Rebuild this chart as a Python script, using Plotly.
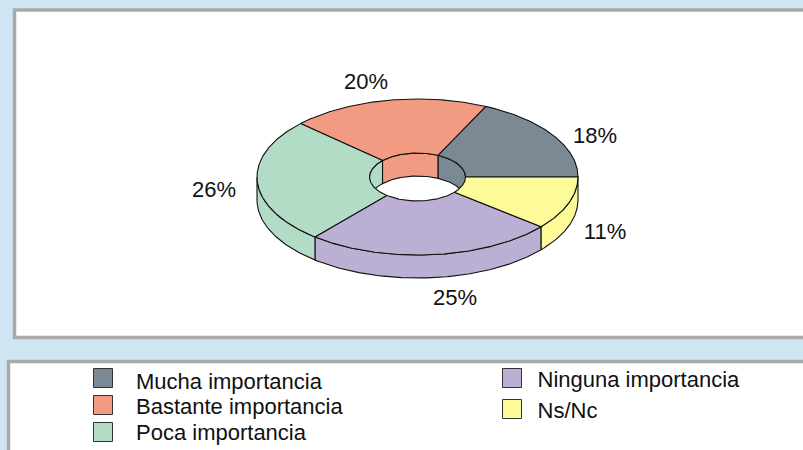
import numpy as np
import plotly.graph_objects as go

# Data
categories = ["Mucha importancia", "Bastante importancia", "Poca importancia", "Ninguna importancia", "Ns/Nc"]
values = [18, 20, 26, 25, 11]
colors = ["#7A8994", "#F09B82", "#B2DCC6", "#BBB0D4", "#FDFB98"]

# Layout geometry (pixel-like coordinates of the page)
W, H = 803, 450
CX, CY = 417.5, 177
A, B = 160.5, 78
HA, HB = 48, 24
DEPTH = 23
LINE = "#111111"
label_pos = [(595, 137), (366, 83), (214, 191), (455, 299), (605, 233)]
legend_pos = [(103, 378), (103, 405), (103, 432), (512, 378), (512, 409)]
legend_text_x = [136, 136, 136, 537.5, 537.5]
legend_text_y = [383, 408, 434, 381, 412]

cum = np.concatenate([[0], np.cumsum(values)]) / sum(values) * 360
fig = go.Figure()


def arc(a, b, t0, t1, dy=0.0):
    t = np.radians(np.linspace(t0, t1, max(int(abs(t1 - t0)) * 2, 2) + 1))
    return CX + a * np.cos(t), CY - b * np.sin(t) + dy


def poly(xs, ys, color, name):
    fig.add_trace(go.Scatter(
        x=np.concatenate(xs), y=np.concatenate(ys), mode="lines", fill="toself",
        fillcolor=color, line=dict(color=LINE, width=1.1), name=name,
        hoverinfo="name", showlegend=False))


def wall(a, b, t0, t1, color, name):
    x1, y1 = arc(a, b, t0, t1)
    x2, y2 = arc(a, b, t1, t0, DEPTH)
    poly([x1, x2, x1[:1]], [y1, y2, y1[:1]], color, name)


# Outer wall (front half), then the inner wall of the hole (back half)
for i in range(len(values)):
    t0, t1 = max(cum[i], 180), min(cum[i + 1], 360)
    if t1 > t0:
        wall(A, B, t0, t1, colors[i], categories[i])
for i in range(len(values)):
    t0, t1 = cum[i], min(cum[i + 1], 180)
    if t1 > t0:
        wall(HA, HB, t0, t1, colors[i], categories[i])

# Top faces
for i in range(len(values)):
    x1, y1 = arc(A, B, cum[i], cum[i + 1])
    x2, y2 = arc(HA, HB, cum[i + 1], cum[i])
    poly([x1, x2, x1[:1]], [y1, y2, y1[:1]], colors[i], categories[i])

# Percent labels
fig.add_trace(go.Scatter(
    x=[p[0] for p in label_pos], y=[p[1] for p in label_pos], mode="text",
    text=[f"{v}%" for v in values], textposition="middle center",
    textfont=dict(family="Liberation Sans", size=22, color="#111111"),
    hoverinfo="skip", showlegend=False))

# Legend swatches and text
fig.add_trace(go.Scatter(
    x=[p[0] for p in legend_pos], y=[p[1] for p in legend_pos], mode="markers",
    marker=dict(symbol="square", size=19, color=colors, line=dict(color="#333333", width=1)),
    hoverinfo="skip", showlegend=False))
fig.add_trace(go.Scatter(
    x=legend_text_x, y=legend_text_y, mode="text", text=categories,
    textposition="middle right",
    textfont=dict(family="Liberation Sans", size=22, color="#111111"),
    hoverinfo="skip", showlegend=False))

panel = dict(type="rect", xref="x", yref="y", fillcolor="white",
             line=dict(color="#A9A9A9", width=3.5), layer="below")
fig.update_layout(
    width=W, height=H, margin=dict(l=0, r=0, t=0, b=0),
    paper_bgcolor="#CFE5F4", plot_bgcolor="#CFE5F4",
    xaxis=dict(range=[0, W], visible=False, fixedrange=True),
    yaxis=dict(range=[H, 0], visible=False, fixedrange=True),
    shapes=[dict(panel, x0=14.5, y0=10, x1=W + 10, y1=337.5),
            dict(panel, x0=8.5, y0=361.5, x1=W + 10, y1=H + 10)],
)
fig.write_html("out.html", config={"displayModeBar": False},
               post_script="document.body.style.margin='0';document.body.style.overflow='hidden';")
